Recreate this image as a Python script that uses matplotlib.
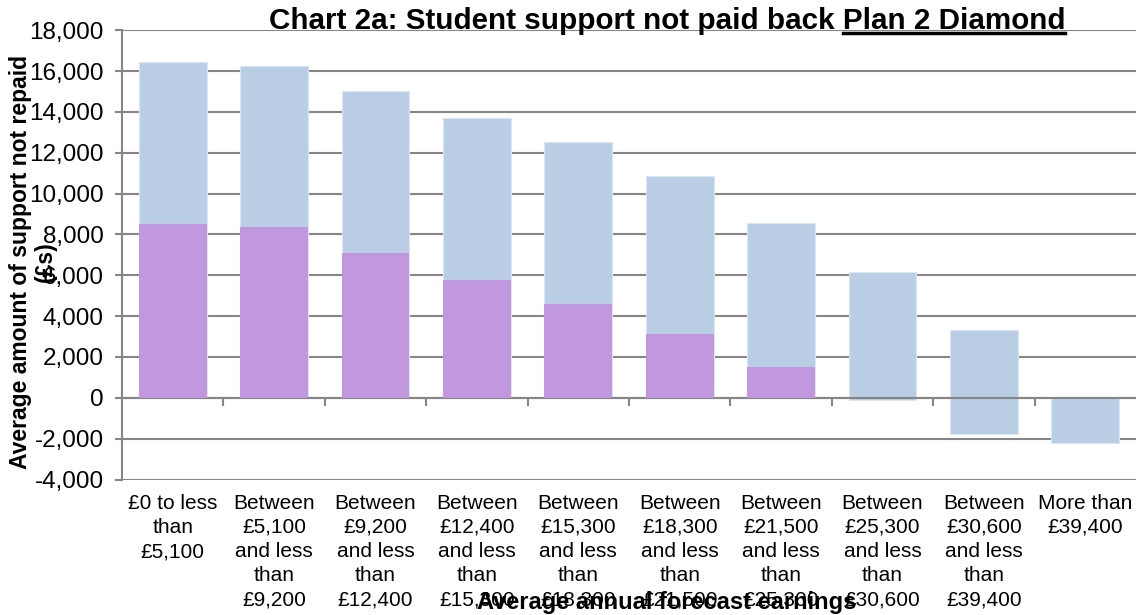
import numpy as np
import matplotlib.pyplot as plt
from matplotlib.lines import Line2D

plt.rcParams['font.family'] = ['Liberation Sans', 'DejaVu Sans']

# Categories (earnings bands)
categories = [
    "£0 to less\nthan\n£5,100",
    "Between\n£5,100\nand less\nthan\n£9,200",
    "Between\n£9,200\nand less\nthan\n£12,400",
    "Between\n£12,400\nand less\nthan\n£15,300",
    "Between\n£15,300\nand less\nthan\n£18,300",
    "Between\n£18,300\nand less\nthan\n£21,500",
    "Between\n£21,500\nand less\nthan\n£25,300",
    "Between\n£25,300\nand less\nthan\n£30,600",
    "Between\n£30,600\nand less\nthan\n£39,400",
    "More than\n£39,400",
]

# blue bars: range from low to high
blue_high = [16450, 16230, 15020, 13690, 12510, 10870, 8570, 6160, 3320, 0]
blue_low = [0, 0, 0, 0, 0, 0, 0, -120, -1770, -2230]
# purple bars: from zero
purple = [8530, 8370, 7090, 5760, 4580, 3110, 1490, 0, 0, 0]

yticks = np.arange(-4000, 18001, 2000)

fig = plt.figure(figsize=(11.36, 6.15), dpi=100)
ax = fig.add_axes([122 / 1136, 1 - 479.5 / 615, 1014 / 1136, (479.5 - 30.3) / 615])

x = np.arange(len(categories))
blue_c = '#B9CDE5'
purple_c = '#C197DF'
w = 0.67

ax.bar(x, np.array(blue_high) - np.array(blue_low), bottom=blue_low, width=w,
       color=blue_c, edgecolor='#DCE6F2', linewidth=0.8, zorder=2)
ax.bar(x, purple, width=w, color=purple_c, linewidth=0, zorder=3)

ax.set_xlim(-0.5, len(categories) - 0.5)
ax.set_ylim(-4000, 18000)
ax.set_yticks(yticks)
ax.set_yticklabels([f"{v:,}" for v in yticks], fontsize=17.5)
ax.yaxis.grid(True, color='#868686', linewidth=1.5, zorder=0)
ax.set_axisbelow(True)

for s in ['top', 'right']:
    ax.spines[s].set_visible(False)
ax.spines['left'].set_color('#868686')
ax.spines['left'].set_linewidth(1.5)
ax.spines['bottom'].set_position(('data', 0))
ax.spines['bottom'].set_color('#868686')
ax.spines['bottom'].set_linewidth(1.5)

ax.tick_params(axis='y', length=5, width=1.5, color='#868686', pad=8)
ax.set_xticks(np.arange(0.5, len(categories) - 0.5, 1))
ax.set_xticklabels([])
ax.tick_params(axis='x', length=6, width=1.5, color='#868686', direction='out')

# category labels below the plot
trans = ax.get_xaxis_transform()
for i, lab in enumerate(categories):
    ax.text(i, -0.032, lab, transform=trans, ha='center', va='top',
            fontsize=15, linespacing=1.34)

# axis titles
fig.text(667 / 1136, 1 - 603 / 615, "Average annual forecast earnings",
         ha='center', va='center', fontsize=17, fontweight='bold')
fig.text(33 / 1136, 1 - 262 / 615, "Average amount of support not repaid\n(£s)",
         ha='center', va='center', rotation=90, fontsize=16.5, fontweight='bold',
         multialignment='center', linespacing=1.1)

# title with underlined part
title_a = "Chart 2a: Student support not paid back"
title_b = "Plan 2 Diamond"
t = fig.text(667 / 1136, 1 - 21 / 615, title_a + " " + title_b,
             ha='center', va='center', fontsize=21.3, fontweight='bold')
tb = fig.text(0, 0, title_b, fontsize=21.3, fontweight='bold', alpha=0)
fig.canvas.draw()
r = fig.canvas.get_renderer()
bt = t.get_window_extent(r)
bb = tb.get_window_extent(r)
ux0 = bt.x1 - bb.width
uy = bt.y0 + 2
fig.add_artist(Line2D([ux0 / 1136, bt.x1 / 1136], [uy / 615, uy / 615],
                      transform=fig.transFigure, color='black', linewidth=2.5))

fig.savefig('out.png', dpi=100)
